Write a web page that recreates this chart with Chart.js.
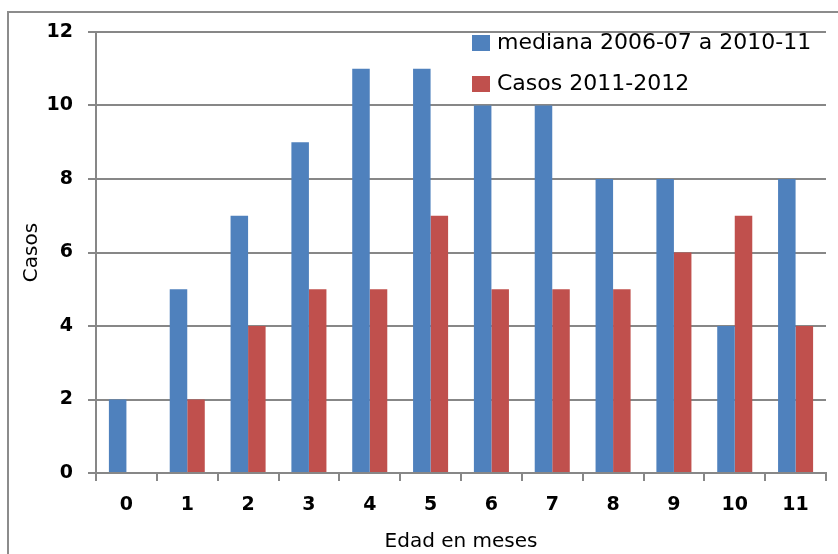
<!DOCTYPE html>
<html>
<head>
<meta charset="utf-8">
<script src="https://cdn.jsdelivr.net/npm/chart.js@4"></script>
<style>
  html, body { margin: 0; padding: 0; background: #fff; }
  #wrap { position: relative; width: 838px; height: 554px; overflow: hidden; }
  #frame { position: absolute; left: 7px; top: 11px; width: 900px; height: 700px;
           border: 2px solid #8c8c8c; }
  canvas { position: absolute; left: 0; top: 0; }
</style>
</head>
<body>
<div id="wrap">
  <div id="frame"></div>
  <canvas id="myChart1" width="838" height="554"></canvas>
</div>
<script>
var edades = ["0", "1", "2", "3", "4", "5", "6", "7", "8", "9", "10", "11"];
var mediana = [2, 5, 7, 9, 11, 11, 10, 10, 8, 8, 4, 8];
var casos = [0, 2, 4, 5, 5, 7, 5, 5, 5, 6, 7, 4];
var gris = "#878787";

// legend drawn inside the plot, top right, like the Excel original
var leyenda = {
  id: "leyenda",
  afterDraw: function (chart) {
    var c = chart.ctx;
    var x = chart.chartArea.right - 354;
    var y = chart.chartArea.top + 11;
    c.save();
    c.font = "22px 'DejaVu Sans'";
    c.textBaseline = "middle";
    chart.data.datasets.forEach(function (ds, i) {
      var yy = y + i * 41;
      c.fillStyle = ds.backgroundColor;
      c.fillRect(x, yy - 8, 18, 16);
      c.fillStyle = "#000";
      c.fillText(ds.label, x + 25, yy);
    });
    c.restore();
  }
};

var ctx = document.getElementById("myChart1").getContext("2d");
var chart = new Chart(ctx, {
  type: "bar",
  data: {
    labels: edades,
    datasets: [
      {
        label: "mediana 2006-07 a 2010-11",
        backgroundColor: "#4F81BD",
        data: mediana
      },
      {
        label: "Casos 2011-2012",
        backgroundColor: "#C0504D",
        data: casos
      }
    ]
  },
  plugins: [leyenda],
  options: {
    responsive: false,
    animation: false,
    layout: { padding: { left: 0, top: 32, right: 12, bottom: 0 } },
    datasets: { bar: { categoryPercentage: 0.576, barPercentage: 1 } },
    plugins: {
      legend: { display: false },
      tooltip: { enabled: false }
    },
    scales: {
      x: {
        afterFit: function (s) { s.height = 81; },
        grid: { offset: true, drawOnChartArea: false, tickLength: 8, color: gris, lineWidth: 2 },
        border: { color: gris, width: 2 },
        ticks: { color: "#000", padding: 13, font: { family: "DejaVu Sans", size: 19, weight: "bold" } },
        title: { display: true, text: "Edad en meses", color: "#000", padding: 0,
                 font: { family: "DejaVu Sans", size: 20 } }
      },
      y: {
        min: 0,
        max: 12,
        afterFit: function (s) { s.width = 96; },
        grid: { tickLength: 8, color: gris, lineWidth: 2 },
        border: { color: gris, width: 2 },
        ticks: { stepSize: 2, color: "#000", padding: 15, font: { family: "DejaVu Sans", size: 19, weight: "bold" } },
        title: { display: true, text: "Casos", color: "#000", padding: { top: 20, bottom: 0 },
                 font: { family: "DejaVu Sans", size: 20 } }
      }
    }
  }
});
</script>
</body>
</html>
